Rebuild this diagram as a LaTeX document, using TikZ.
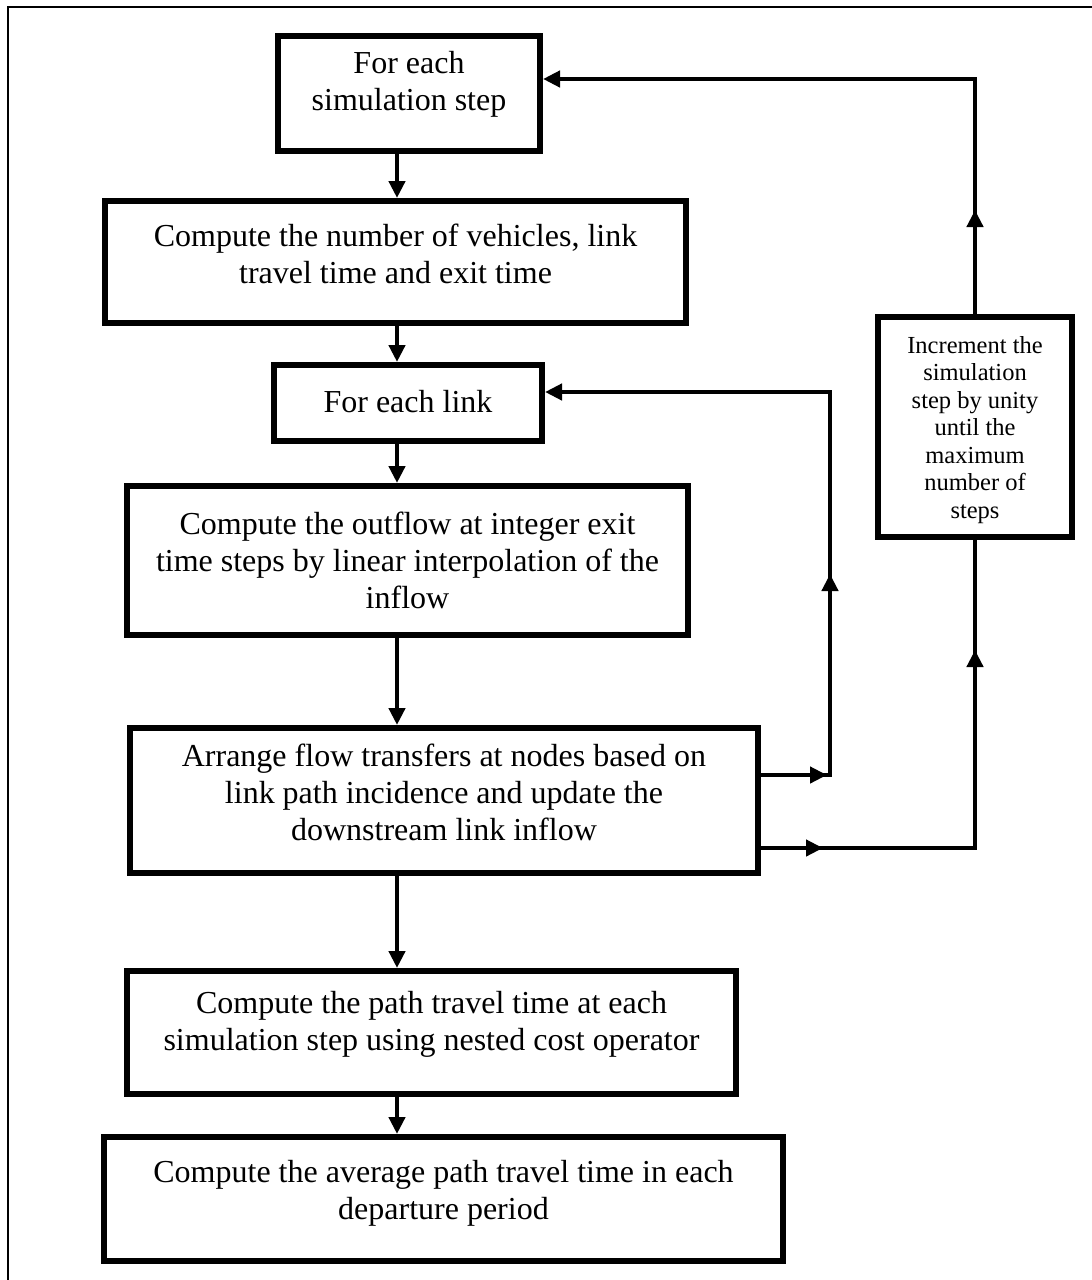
\documentclass[tikz,border=0pt]{standalone}
\usepackage{fontspec}
\setmainfont{Liberation Serif}
\usetikzlibrary{arrows.meta,decorations.markings}
\begin{document}
\begin{tikzpicture}[x=1pt,y=-1pt,
  box/.style={draw=black, line width=6pt, inner sep=0pt, fill=white},
  txt/.style={align=center, inner sep=0pt, font=\fontsize{32}{37}\selectfont},
  smalltxt/.style={align=center, inner sep=0pt, font=\fontsize{24.5}{27.5}\selectfont},
  conn/.style={line width=4.5pt, draw=black, line join=miter},
  tip/.style={-{Triangle[length=17pt,width=16pt]}},
  twoarrows/.style 2 args={postaction={decorate},decoration={markings,
      mark=at position #1 with {\arrow{Triangle[length=17pt,width=16pt]}},
      mark=at position #2 with {\arrow{Triangle[length=17pt,width=16pt]}}}},
  onearrow/.style={postaction={decorate},decoration={markings,
      mark=at position #1 with {\arrow{Triangle[length=17pt,width=16pt]}}}}
]
\useasboundingbox (0,0) rectangle (1092,1280);
\draw[line width=2pt] (8,1290) -- (8,7) -- (1100,7);

% boxes
\node[box, minimum width=262, minimum height=115] (b1) at (409,93.5) {};
\node[box, minimum width=581, minimum height=122] (b2) at (395.5,262) {};
\node[box, minimum width=268, minimum height=76] (b3) at (408,403) {};
\node[box, minimum width=561, minimum height=149] (b4) at (407.5,560.5) {};
\node[box, minimum width=628, minimum height=145] (b5) at (444,800.5) {};
\node[box, minimum width=609, minimum height=123] (b6) at (431.5,1032.5) {};
\node[box, minimum width=679, minimum height=124] (b7) at (443.5,1199) {};
\node[box, minimum width=194, minimum height=220] (b8) at (975,427) {};

% texts
\node[txt] (t1) at ([yshift=9pt]b1.center) {For each\\simulation step};
\node[txt] (t2) at ([yshift=8pt]b2.center) {Compute the number of vehicles, link\\travel time and exit time};
\node[txt] (t3) at ([yshift=1pt]b3.center) {For each link};
\node[txt] (t4) at (b4.center) {Compute the outflow at integer exit\\time steps by linear interpolation of the\\inflow};
\node[txt] (t5) at ([yshift=8pt]b5.center) {Arrange flow transfers at nodes based on\\link path incidence and update the\\downstream link inflow};
\node[txt] (t6) at ([yshift=8pt]b6.center) {Compute the path travel time at each\\simulation step using nested cost operator};
\node[txt] (t7) at ([yshift=6pt]b7.center) {Compute the average path travel time in each\\departure period};
\node[smalltxt] (t8) at ([yshift=-3pt]b8.center) {Increment the\\simulation\\step by unity\\until the\\maximum\\number of\\steps};

% main vertical connectors
\coordinate (ax) at (397,0);
\draw[conn,tip] (ax |- b1.south) -- (ax |- b2.north);
\draw[conn,tip] (ax |- b2.south) -- (ax |- b3.north);
\draw[conn,tip] (ax |- b3.south) -- (ax |- b4.north);
\draw[conn,tip] (ax |- b4.south) -- (ax |- b5.north);
\draw[conn,tip] (ax |- b5.south) -- (ax |- b6.north);
\draw[conn,tip] (ax |- b6.south) -- (ax |- b7.north);

% inner loop (for each link)
\coordinate (e1) at (830,775);
\coordinate (e1t) at (830,392);
\draw[conn,tip,twoarrows={66pt}{270pt}] (b5.east |- e1) -- (e1) -- (e1t) -- (b3.east |- e1t);

% outer loop (simulation step)
\coordinate (e2) at (975,848);
\coordinate (e3) at (975,79);
\draw[conn,twoarrows={62pt}{412pt}] (b5.east |- e2) -- (e2) -- (b8.south);
\draw[conn,tip,onearrow=104pt] (b8.north) -- (e3) -- (b1.east |- e3);
\end{tikzpicture}
\end{document}
